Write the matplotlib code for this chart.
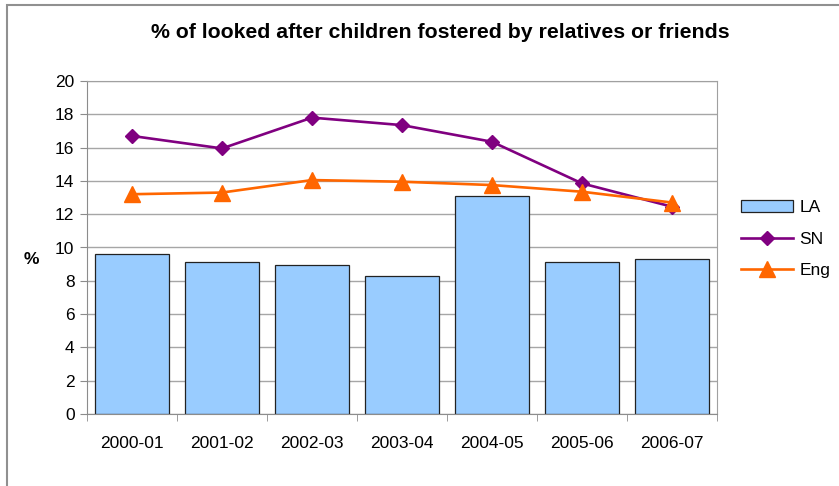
import numpy as np
import matplotlib
matplotlib.use('Agg')
import matplotlib.pyplot as plt
from matplotlib.patches import Rectangle

plt.rcParams['font.family'] = ['Liberation Sans', 'DejaVu Sans']

years = ['2000-01', '2001-02', '2002-03', '2003-04', '2004-05', '2005-06', '2006-07']
la = [9.6, 9.1, 8.95, 8.3, 13.1, 9.1, 9.3]
sn = [16.7, 15.95, 17.8, 17.35, 16.35, 13.85, 12.45]
eng = [13.2, 13.3, 14.05, 13.95, 13.75, 13.35, 12.7]

x = np.arange(len(years))
grey = '#8c8c8c'

fig = plt.figure(figsize=(8.39, 4.86), dpi=100)
# outer chart frame (runs off right and bottom edges)
fig.patches.append(Rectangle((7/839, -0.1), 1.2, 1 - 5/486 + 0.1, transform=fig.transFigure,
                             fill=False, edgecolor='#909090', linewidth=1.5))

ax = fig.add_axes([87/839, 1 - 414/486, 630/839, 333/486])
b = ax.bar(x, la, width=0.82, color='#99CCFF', edgecolor='#222222', linewidth=0.9, label='LA', zorder=2)
l1, = ax.plot(x, sn, color='#800080', lw=1.9, marker='D', ms=7, label='SN', zorder=3)
l2, = ax.plot(x, eng, color='#FF6600', lw=1.9, marker='^', ms=11, label='Eng', zorder=3)

ax.set_xlim(-0.5, len(years) - 0.5)
ax.set_ylim(0, 20)
ax.set_yticks(np.arange(0, 21, 2))
ax.yaxis.grid(True, color='#a6a6a6', lw=1)
ax.set_axisbelow(True)
ax.set_xticks(x)
ax.set_xticklabels(years)
ax.set_xticks(np.arange(-0.5, len(years)), minor=True)
ax.tick_params(axis='x', which='major', length=0, pad=16, labelsize=12.5)
ax.tick_params(axis='x', which='minor', length=5, color=grey, direction='out')
ax.tick_params(axis='y', length=5, color=grey, direction='out', labelsize=12.5, pad=4)
for s in ax.spines.values():
    s.set_color('#a0a0a0')
ax.spines['left'].set_color(grey)
ax.spines['bottom'].set_color(grey)

fig.text(31/839, 1 - 259/486, '%', ha='center', va='center', fontsize=12.5, fontweight='bold')
fig.text(0.525, 1 - 33/486, '% of looked after children fostered by relatives or friends',
         ha='center', va='center', fontsize=15.3, fontweight='bold')

fig.legend([b, l1, l2], ['LA', 'SN', 'Eng'], loc='center left',
           bbox_to_anchor=(741/839, 1 - 239/486), borderaxespad=0, borderpad=0,
           frameon=False, fontsize=12.5, handlelength=3.0, labelspacing=0.93, handletextpad=0.35)

fig.savefig('out.png', dpi=100)
